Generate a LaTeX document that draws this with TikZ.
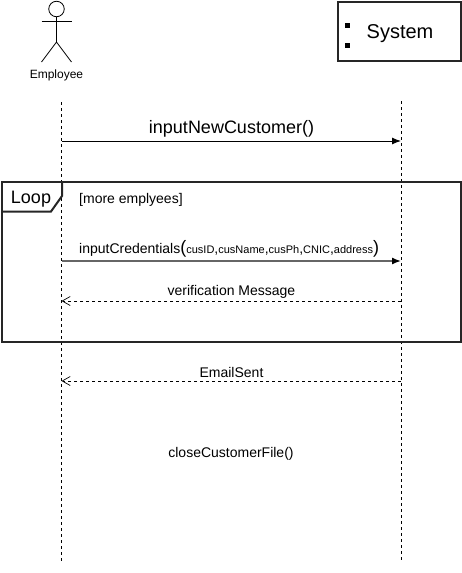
\documentclass[tikz,border=0pt]{standalone}
\usepackage{fontspec}
\setmainfont{Liberation Sans}
\usetikzlibrary{arrows.meta}

\begin{document}
\begin{tikzpicture}[
  x=1pt, y=-1pt,
  every node/.style={inner sep=0pt, font=\fontsize{14}{16}\selectfont},
  actor/.style={line width=0.8pt, black},
  lifeline/.style={line width=0.9pt, dash pattern=on 3pt off 3pt},
  frame/.style={line width=2pt, black!85},
  call/.style={-{Latex[length=9pt, width=7pt, black]}, line width=1pt},
  reply/.style={-{Straight Barb[length=8pt, width=9pt, line width=0.7pt]}, line width=0.8pt, dash pattern=on 3pt off 3pt},
  bigmsg/.style={font=\fontsize{18}{20}\selectfont},
  port/.style={fill=black, minimum size=5pt, rectangle}
]
  \useasboundingbox (0,0) rectangle (462,573);

  % Actor
  \node[circle, draw, actor, minimum size=15.5pt] (head) at (56.5,9) {};
  \coordinate (hip) at (56.5,42);
  \coordinate (armL) at (41.5,21);
  \coordinate (armR) at (71.5,21);
  \coordinate (legL) at (41.5,62);
  \coordinate (legR) at (71.5,62);
  \draw[actor] (head.south) -- (hip);
  \draw[actor] (armL) -- (armR);
  \draw[actor] (legL) -- (hip) -- (legR);
  \node[font=\fontsize{12}{14}\selectfont] (employee) at (56.5,75.5) {Employee};

  % System box
  \node[draw, frame, minimum width=122.5pt, minimum height=59.5pt] (system) at (399.5,31.5) {};
  \node[font=\fontsize{20}{22}\selectfont] (systemText) at (400,33.5) {System};
  \node[port] (port1) at (347.7,25) {};
  \node[port] (port2) at (347.7,45) {};

  % Lifelines
  \coordinate (empTop) at (61.5,102);
  \coordinate (empBot) at (61.5,562);
  \coordinate (sysTop) at (401,101);
  \coordinate (sysBot) at (401,562);
  \draw[lifeline] (empTop) -- (empBot);
  \draw[lifeline] (sysTop) -- (sysBot);

  % Loop frame
  \node[draw, frame, minimum width=459.5pt, minimum height=160pt] (loop) at (231.25,261.5) {};
  \coordinate (tabA) at (62,181.5);
  \coordinate (tabB) at (62,196);
  \coordinate (tabC) at (51,211.5);
  \coordinate (tabD) at (1.5,211.5);
  \draw[frame] (tabA) -- (tabB) -- (tabC) -- (tabD);
  \node[font=\fontsize{18}{20}\selectfont] (loopText) at (31,199) {Loop};
  \node[anchor=west] (guard) at (79,199.5) {[more emplyees]};

  % Messages
  \coordinate (emp1) at (61.5,141);
  \coordinate (sys1) at (401,141);
  \coordinate (emp2) at (61.5,261);
  \coordinate (sys2) at (401,261);
  \coordinate (emp3) at (61.5,301);
  \coordinate (sys3) at (401,301);
  \coordinate (emp4) at (61.5,381);
  \coordinate (sys4) at (401,381);

  \draw[call] (emp1) -- (sys1);
  \draw[call, line width=1.4pt, black!60] (emp2) -- (sys2);
  \draw[reply] (sys3) -- (emp3);
  \draw[reply] (sys4) -- (emp4);

  \node[bigmsg] (msgNew) at (231.5,128.5) {inputNewCustomer()};
  \node[anchor=base west] (msgCred) at (79,253)
    {inputCredentials{\fontsize{18}{20}\selectfont(}{\fontsize{11}{13}\selectfont cusID{\fontsize{14}{16}\selectfont,}cusName{\fontsize{14}{16}\selectfont,}cusPh{\fontsize{14}{16}\selectfont,}CNIC{\fontsize{14}{16}\selectfont,}address}{\fontsize{18}{20}\selectfont)}};
  \node (msgVerify) at (231.5,292) {verification Message};
  \node (msgMail) at (231.5,372) {EmailSent};
  \node (msgClose) at (231,453.5) {closeCustomerFile()};
\end{tikzpicture}
\end{document}
